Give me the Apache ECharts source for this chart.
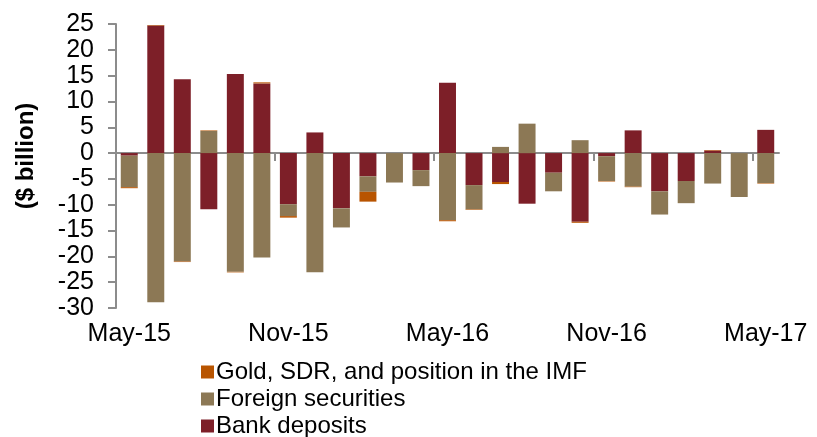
<!DOCTYPE html>
<html>
<head>
<meta charset="utf-8">
<script src="https://cdn.jsdelivr.net/npm/echarts@6/dist/echarts.min.js"></script>
<style>
  html, body { margin: 0; padding: 0; background: #fff; }
  #chart { width: 817px; height: 437px; }
</style>
</head>
<body>
<div id="chart"></div>
<script>
// months, May-15 .. May-17
var months = ['May-15', 'Jun-15', 'Jul-15', 'Aug-15', 'Sep-15', 'Oct-15', 'Nov-15', 'Dec-15',
    'Jan-16', 'Feb-16', 'Mar-16', 'Apr-16', 'May-16', 'Jun-16', 'Jul-16', 'Aug-16', 'Sep-16',
    'Oct-16', 'Nov-16', 'Dec-16', 'Jan-17', 'Feb-17', 'Mar-17', 'Apr-17', 'May-17'];

// $ billion
var bankDeposits = [-0.5, 24.7, 14.3, -10.9, 15.3, 13.5, -9.9, 4.0, -10.7, -4.5, 0, -3.3, 13.6,
    -6.2, -5.6, -9.8, -3.8, -13.3, -0.6, 4.4, -7.4, -5.4, 0.5, 0, 4.5];
var foreignSecurities = [-6.1, -28.9, -21.0, 4.3, -23.0, -20.2, -2.3, -23.1, -3.7, -3.0, -5.7, -3.1, -13.0,
    -4.7, 1.2, 5.7, -3.6, 2.5, -4.8, -6.5, -4.5, -4.3, -5.9, -8.5, -5.8];
var goldSdrImf = [-0.2, 0.1, -0.1, 0.1, -0.1, 0.2, -0.3, 0, 0, -1.9, 0, 0, -0.2,
    -0.1, -0.4, 0, 0, -0.2, -0.1, -0.1, 0, 0, 0.1, 0, -0.1];

// tick marks on the zero line, every 6 months (category boundaries)
var tickMonths = [0, 6, 12, 18, 24];

var yMin = -30, yMax = 25, yStep = 5;

var fontFam = 'Liberation Sans, Arial, sans-serif';
var axisGray = '#8c8c8c';

var chart = echarts.init(document.getElementById('chart'));

var option = {
    animation: false,
    textStyle: { fontFamily: fontFam, color: '#000' },
    grid: { left: 116, right: 38, top: 24, bottom: 129, containLabel: false },
    legend: {
        orient: 'vertical',
        left: 196,
        top: 355,
        height: 100,
        icon: 'rect',
        itemWidth: 13,
        itemHeight: 13,
        itemGap: 3,
        textStyle: { fontSize: 24, color: '#000', fontFamily: fontFam, padding: [0, 0, 0, -3] },
        data: ['Gold, SDR, and position in the IMF', 'Foreign securities', 'Bank deposits']
    },
    xAxis: [
        {
            // category axis for the bars, labels at the bottom
            type: 'category',
            data: months,
            position: 'bottom',
            axisLine: { show: false, onZero: false },
            axisTick: { show: false },
            axisLabel: { interval: 5, fontSize: 25, color: '#000', margin: 14, fontFamily: fontFam },
            splitLine: { show: false }
        },
        {
            // zero line with ticks
            type: 'value',
            min: 0,
            max: months.length,
            interval: 6,
            position: 'bottom',
            axisLine: { show: true, onZero: true, lineStyle: { color: axisGray, width: 2 } },
            axisTick: { show: true, length: 8, lineStyle: { color: axisGray, width: 2 },
                customValues: tickMonths },
            axisLabel: { show: true, customValues: tickMonths, formatter: function () { return ''; } },
            splitLine: { show: false }
        }
    ],
    yAxis: {
        type: 'value',
        min: yMin,
        max: yMax,
        interval: yStep,
        name: '($ billion)',
        nameLocation: 'middle',
        nameGap: 78,
        nameTextStyle: { fontSize: 24, fontWeight: 'bold', color: '#000', fontFamily: fontFam, padding: [0, 0, 0, 20] },
        axisLine: { show: true, lineStyle: { color: axisGray, width: 2 } },
        axisTick: { show: true, length: 8, lineStyle: { color: axisGray, width: 2 } },
        axisLabel: { fontSize: 25, color: '#000', margin: 22, fontFamily: fontFam },
        splitLine: { show: false }
    },
    series: [
        {
            name: 'Bank deposits',
            type: 'bar',
            stack: 'total',
            barWidth: '64%',
            itemStyle: { color: '#7d1f28' },
            data: bankDeposits
        },
        {
            name: 'Foreign securities',
            type: 'bar',
            stack: 'total',
            itemStyle: { color: '#8c7855' },
            data: foreignSecurities
        },
        {
            name: 'Gold, SDR, and position in the IMF',
            type: 'bar',
            stack: 'total',
            itemStyle: { color: '#b85400' },
            data: goldSdrImf
        }
    ]
};

chart.setOption(option);
</script>
</body>
</html>
